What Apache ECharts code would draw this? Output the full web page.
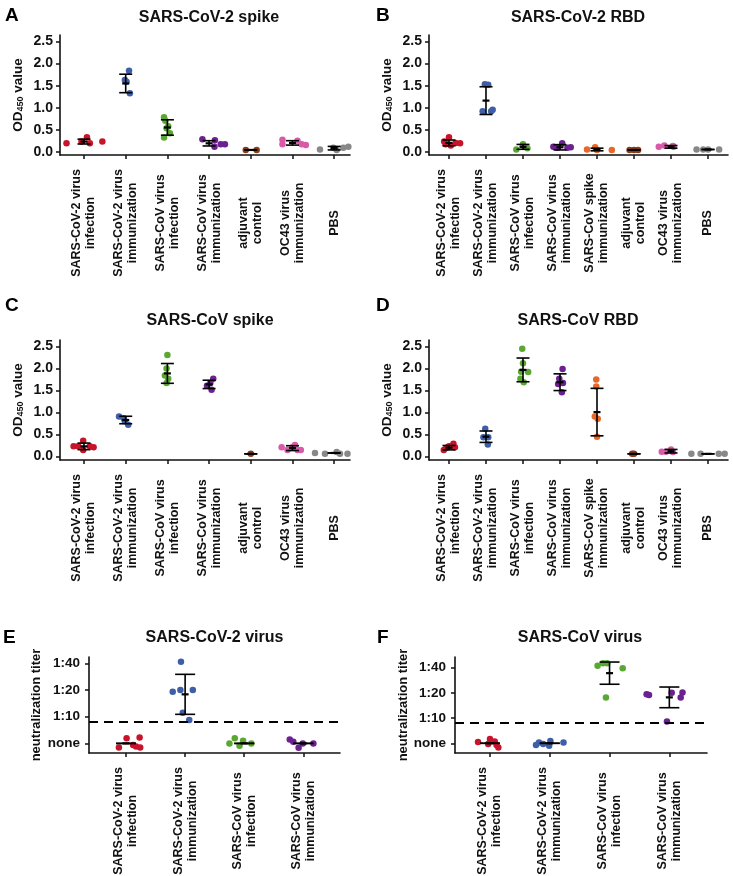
<!DOCTYPE html>
<html>
<head>
<meta charset="utf-8" />
<title>antibody panels</title>
<script src="https://cdn.jsdelivr.net/npm/echarts@6/dist/echarts.min.js"></script>
<style>
  * { margin: 0; padding: 0; }
  html, body { background: #fff; }
  #main { width: 733px; height: 876px; }
</style>
</head>
<body>
<div id="main"></div>
<script>
var FONT = '"Liberation Sans", Arial, sans-serif';
var INK = '#111';

// group names and colours
var groupLabel = {
  s2inf: 'SARS-CoV-2 virus\ninfection',
  s2imm: 'SARS-CoV-2 virus\nimmunization',
  s1inf: 'SARS-CoV virus\ninfection',
  s1imm: 'SARS-CoV virus\nimmunization',
  s1spk: 'SARS-CoV spike\nimmunization',
  adj: 'adjuvant\ncontrol',
  oc43: 'OC43 virus\nimmunization',
  pbs: 'PBS'
};
var groupColor = {
  s2inf: '#c8142a', s2imm: '#3e5ea8', s1inf: '#5aa832', s1imm: '#6b2190',
  s1spk: '#e8682a', adj: '#8b3a1a', oc43: '#d85aa8', pbs: '#888888'
};

var groupsA = ['s2inf', 's2imm', 's1inf', 's1imm', 'adj', 'oc43', 'pbs'];
var groupsB = ['s2inf', 's2imm', 's1inf', 's1imm', 's1spk', 'adj', 'oc43', 'pbs'];
var groupsC = groupsA;
var groupsD = groupsB;
var groupsE = ['s2inf', 's2imm', 's1inf', 's1imm'];
var groupsF = groupsE;

// tick labels
var odTicks = [0, 0.5, 1.0, 1.5, 2.0, 2.5];
var titerTicks = [0, 1, 2, 3];
var titerLabels = ['none', '1:10', '1:20', '1:40'];
var titerCutoff = 0.82;

// dots: [jitter in group widths, value]
var dotsA = [
  [[-0.42, 0.19], [-0.06, 0.23], [0.07, 0.33], [0.14, 0.19], [0.44, 0.23]],
  [[0.08, 1.84], [-0.02, 1.63], [0.02, 1.59], [0.1, 1.33]],
  [[-0.08, 0.78], [-0.05, 0.70], [0.02, 0.58], [-0.02, 0.53], [0.06, 0.42], [-0.08, 0.32]],
  [[-0.16, 0.28], [0.14, 0.26], [0.13, 0.11], [0.28, 0.17], [0.38, 0.17]],
  [[-0.12, 0.04], [0.14, 0.04]],
  [[-0.24, 0.27], [-0.24, 0.17], [0.12, 0.25], [0.22, 0.17], [0.32, 0.15]],
  [[-0.34, 0.05], [-0.02, 0.09], [0.06, 0.04], [0.22, 0.09], [0.34, 0.11]]
];
var meanA = [0.23, 1.55, 0.55, 0.19, 0.04, 0.20, 0.08];
var sdA = [0.055, 0.21, 0.175, 0.06, 0, 0.05, 0.04];

var dotsB = [
  [[0, 0.33], [-0.13, 0.23], [-0.09, 0.17], [0.05, 0.14], [0.18, 0.2], [0.3, 0.19]],
  [[-0.03, 1.53], [0.06, 1.52], [-0.09, 0.92], [0.18, 0.95], [0.14, 0.92]],
  [[-0.18, 0.05], [0, 0.17], [0.12, 0.08], [0.04, 0.11]],
  [[-0.18, 0.11], [0.06, 0.19], [-0.07, 0.09], [0.2, 0.09], [0.29, 0.1]],
  [[-0.27, 0.05], [-0.05, 0.1], [0, 0.04], [0.4, 0.04]],
  [[-0.12, 0.04], [0, 0.04], [0.11, 0.04]],
  [[-0.33, 0.11], [-0.18, 0.14], [0.05, 0.13], [0.07, 0.11]],
  [[-0.31, 0.05], [-0.13, 0.05], [0, 0.05], [0.3, 0.05]]
];
var meanB = [0.2, 1.16, 0.11, 0.1, 0.05, 0.04, 0.11, 0.05];
var sdB = [0.065, 0.315, 0.055, 0.06, 0.03, 0, 0.03, 0];

var dotsC = [
  [[-0.25, 0.23], [-0.14, 0.23], [-0.02, 0.36], [-0.02, 0.15], [0.14, 0.23], [0.23, 0.21]],
  [[-0.16, 0.91], [-0.05, 0.87], [-0.02, 0.80], [0.06, 0.72]],
  [[0, 2.31], [-0.02, 2.0], [-0.06, 1.84], [0.02, 1.77], [-0.02, 1.67]],
  [[0.1, 1.77], [0.03, 1.67], [-0.05, 1.61], [0.06, 1.52]],
  [[0, 0.06]],
  [[-0.26, 0.21], [-0.12, 0.15], [0, 0.21], [0.06, 0.26], [0.12, 0.15], [0.2, 0.15]],
  [[-0.46, 0.08], [-0.22, 0.06], [0.06, 0.1], [0.14, 0.06], [0.32, 0.06]]
];
var meanC = [0.23, 0.83, 1.89, 1.64, 0.06, 0.19, 0.08];
var sdC = [0.075, 0.085, 0.225, 0.095, 0, 0.055, 0];

var dotsD = [
  [[-0.14, 0.15], [0, 0.23], [0.12, 0.29], [0.16, 0.21], [-0.07, 0.2]],
  [[-0.02, 0.63], [-0.07, 0.44], [0.06, 0.44], [0.05, 0.27]],
  [[-0.02, 2.45], [0, 2.12], [-0.05, 1.93], [0.14, 1.92], [0.02, 1.69], [-0.07, 1.77]],
  [[0.07, 1.99], [-0.02, 1.77], [0.08, 1.67], [-0.05, 1.65], [0.05, 1.46]],
  [[-0.02, 1.75], [-0.02, 1.59], [-0.06, 0.91], [0.02, 0.86], [0, 0.45]],
  [[0, 0.06], [-0.05, 0.06]],
  [[-0.25, 0.11], [0, 0.16], [0.05, 0.1], [-0.14, 0.11]],
  [[-0.45, 0.06], [-0.2, 0.06], [0.29, 0.06], [0.45, 0.06]]
];
var meanD = [0.2, 0.45, 1.97, 1.69, 1.01, 0.06, 0.12, 0.06];
var sdD = [0.05, 0.13, 0.27, 0.19, 0.54, 0, 0.04, 0];

// titer levels: 0 = none, 1 = 1:10, 2 = 1:20, 3 = 1:40
var dotsE = [
  [[-0.12, -0.15], [0.01, 0.19], [0.12, -0.06], [0.17, -0.12], [0.23, 0.22], [0.24, -0.15]],
  [[-0.07, 3.06], [-0.21, 1.94], [-0.08, 2.0], [0.13, 2.0], [-0.04, 1.15], [0.07, 0.88]],
  [[-0.25, 0], [-0.16, 0.19], [-0.08, -0.09], [-0.02, 0.1], [0.12, 0]],
  [[-0.23, 0.15], [-0.17, 0.06], [-0.08, -0.16], [-0.01, 0], [0.17, 0]]
];
var meanE = [0, 1.84, 0, 0];
var sdE = [0, 0.75, 0, 0];

var dotsF = [
  [[-0.2, 0.05], [0, 0.17], [-0.03, -0.03], [0.08, 0.07], [0.11, -0.07], [0.14, -0.17]],
  [[-0.23, -0.07], [-0.18, 0.03], [-0.11, -0.03], [-0.01, -0.1], [0.01, 0.09], [0.23, 0.03]],
  [[-0.2, 3.07], [-0.11, 3.17], [-0.04, 3.17], [0.22, 2.97], [-0.06, 1.81]],
  [[-0.38, 1.94], [-0.34, 1.91], [0.04, 2.0], [0.22, 2.01], [0.19, 1.81], [-0.04, 0.86]]
];
var meanF = [0, 0, 2.78, 1.82];
var sdF = [0, 0, 0.44, 0.41];

var panels = [
  { letter: 'A', title: 'SARS-CoV-2 spike', groups: groupsA, dots: dotsA, mean: meanA, sd: sdA, kind: 'od',
    grid: { left: 60, top: 35, width: 290, height: 120 }, x: [-0.576, 6.38], y: [-0.075, 2.65],
    titleAt: [209, 17.5], letterAt: [5, 6], cap: 6.5 },
  { letter: 'B', title: 'SARS-CoV-2 RBD', groups: groupsB, dots: dotsB, mean: meanB, sd: sdB, kind: 'od',
    grid: { left: 429, top: 35, width: 299, height: 120 }, x: [-0.54, 7.54], y: [-0.075, 2.65],
    titleAt: [578, 17.5], letterAt: [376, 6], cap: 6.5 },
  { letter: 'C', title: 'SARS-CoV spike', groups: groupsC, dots: dotsC, mean: meanC, sd: sdC, kind: 'od',
    grid: { left: 60, top: 340, width: 290, height: 120 }, x: [-0.576, 6.38], y: [-0.08, 2.65],
    titleAt: [210, 321], letterAt: [5, 296], cap: 6.5 },
  { letter: 'D', title: 'SARS-CoV RBD', groups: groupsD, dots: dotsD, mean: meanD, sd: sdD, kind: 'od',
    grid: { left: 429, top: 340, width: 299, height: 120 }, x: [-0.54, 7.54], y: [-0.08, 2.65],
    titleAt: [578, 321], letterAt: [376, 296], cap: 6.5 },
  { letter: 'E', title: 'SARS-CoV-2 virus', groups: groupsE, dots: dotsE, mean: meanE, sd: sdE, kind: 'titer',
    grid: { left: 89, top: 657, width: 251, height: 96 }, x: [-0.626, 3.62], y: [-0.36, 3.24],
    titleAt: [214.5, 638], letterAt: [3, 628], cap: 10, nameGap: 46 },
  { letter: 'F', title: 'SARS-CoV virus', groups: groupsF, dots: dotsF, mean: meanF, sd: sdF, kind: 'titer',
    grid: { left: 455, top: 657, width: 252, height: 96 }, x: [-0.585, 3.63], y: [-0.385, 3.42],
    titleAt: [580, 638], letterAt: [377, 628], cap: 10, nameGap: 41 }
];

var grids = [], xAxes = [], yAxes = [], series = [], graphics = [];

// mean +/- SD with caps
function errorBars(cap) {
  return function (params, api) {
    var x = api.value(0), m = api.value(1), s = api.value(2);
    var hi = api.coord([x, m + s]), lo = api.coord([x, m - s]), mid = api.coord([x, m]);
    var st = { stroke: '#000', lineWidth: 1.6 };
    return {
      type: 'group',
      children: [
        { type: 'line', shape: { x1: hi[0], y1: hi[1], x2: lo[0], y2: lo[1] }, style: st },
        { type: 'line', shape: { x1: hi[0] - cap, y1: hi[1], x2: hi[0] + cap, y2: hi[1] }, style: st },
        { type: 'line', shape: { x1: lo[0] - cap, y1: lo[1], x2: lo[0] + cap, y2: lo[1] }, style: st },
        { type: 'line', shape: { x1: mid[0] - 3.5, y1: mid[1], x2: mid[0] + 3.5, y2: mid[1] }, style: { stroke: '#000', lineWidth: 2.2 } }
      ]
    };
  };
}

panels.forEach(function (p, i) {
  var g = p.grid;
  grids.push({ left: g.left, top: g.top, width: g.width, height: g.height, outerBoundsMode: 'none' });

  var idx = p.groups.map(function (k, j) { return j; });
  xAxes.push({
    type: 'value', gridIndex: i, min: p.x[0], max: p.x[1],
    axisLine: { show: true, onZero: false, lineStyle: { color: INK, width: 1.6 } },
    axisTick: { show: true, customValues: idx, length: 4, lineStyle: { color: INK, width: 1.5 } },
    axisLabel: {
      customValues: idx,
      formatter: function (v) { return groupLabel[p.groups[Math.round(v)]]; },
      rotate: 90, align: 'center', verticalAlign: 'middle', margin: 68,
      fontSize: 12.5, lineHeight: 14, fontWeight: 'bold', fontFamily: FONT, color: INK
    },
    splitLine: { show: false }
  });

  var isOd = p.kind === 'od';
  yAxes.push({
    type: 'value', gridIndex: i, min: p.y[0], max: p.y[1],
    axisLine: { show: true, onZero: false, lineStyle: { color: INK, width: 1.6 } },
    axisTick: { show: true, customValues: isOd ? odTicks : titerTicks, length: 4, lineStyle: { color: INK, width: 1.5 } },
    axisLabel: {
      customValues: isOd ? odTicks : titerTicks,
      formatter: isOd ? function (v) { return v.toFixed(1); } : function (v) { return titerLabels[Math.round(v)]; },
      margin: isOd ? 7 : 9, fontSize: isOd ? 14 : 13.5, fontWeight: 'bold', fontFamily: FONT, color: INK
    },
    splitLine: { show: false },
    name: isOd ? '{t|OD}{s|450}{t| value}' : 'neutralization titer',
    nameLocation: 'middle',
    nameGap: isOd ? 35 : p.nameGap,
    nameTextStyle: isOd ? {
      rich: {
        t: { fontSize: 13.5, fontWeight: 'bold', fontFamily: FONT, color: INK, lineHeight: 14, verticalAlign: 'top' },
        s: { fontSize: 9, fontWeight: 'bold', fontFamily: FONT, color: INK, lineHeight: 9, verticalAlign: 'bottom', padding: [8, 0, 0, 0] }
      }
    } : { fontSize: 13, fontWeight: 'bold', fontFamily: FONT, color: INK }
  });

  p.groups.forEach(function (key, j) {
    series.push({
      type: 'scatter', xAxisIndex: i, yAxisIndex: i,
      symbolSize: 6.5, itemStyle: { color: groupColor[key], opacity: 1 },
      data: p.dots[j].map(function (d) { return [j + d[0], d[1]]; }),
      z: 2, silent: true
    });
  });

  var bars = { type: 'custom', xAxisIndex: i, yAxisIndex: i, z: 4, silent: true,
    renderItem: errorBars(p.cap),
    data: p.mean.map(function (m, j) { return [j, m, p.sd[j]]; })
  };
  if (!isOd) {
    bars.markLine = {
      silent: true, symbol: 'none', label: { show: false },
      lineStyle: { color: '#000', width: 2, type: [9, 6] },
      data: [{ yAxis: titerCutoff }]
    };
  }
  series.push(bars);

  graphics.push({
    type: 'text', x: p.titleAt[0], y: p.titleAt[1],
    style: { text: p.title, font: 'bold 16px ' + FONT, fill: INK, align: 'center', verticalAlign: 'middle' }
  });
  graphics.push({
    type: 'text', x: p.letterAt[0], y: p.letterAt[1],
    style: { text: p.letter, font: 'bold 19px ' + FONT, fill: '#000', align: 'left', verticalAlign: 'top' }
  });
});

var myChart = echarts.init(document.getElementById('main'));
myChart.setOption({
  animation: false,
  backgroundColor: '#fff',
  grid: grids,
  xAxis: xAxes,
  yAxis: yAxes,
  series: series,
  graphic: graphics
});
</script>
</body>
</html>
